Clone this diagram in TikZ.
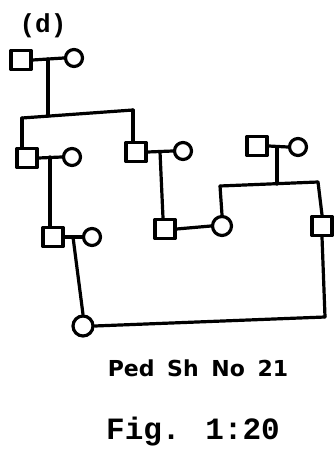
\documentclass[tikz,border=0pt]{standalone}
\usepackage{fontspec}
\setmainfont{DejaVu Sans}
\newfontfamily\monofnt{Liberation Mono}
\begin{document}
\begin{tikzpicture}[x=1pt,y=-1pt,
  line width=3.2pt, line cap=round, line join=round,
  male/.style={draw, rectangle, minimum width=20pt, minimum height=19pt, inner sep=0pt, line width=3.2pt},
  female/.style={draw, circle, minimum size=17pt, inner sep=0pt, line width=3.2pt},
  lbl/.style={inner sep=0pt, anchor=center}]
\useasboundingbox (0,0) rectangle (335,454);
% generation I
\node[male]   (I1) at (21,60) {};
\node[female] (I2) at (74,58) {};
% generation II
\node[male]   (II1) at (27,158) {};
\node[female] (II2) at (72,157) {};
\node[male]   (II3) at (136,152) {};
\node[female] (II4) at (183,151) {};
\node[male]   (II5) at (257,146) {};
\node[female] (II6) at (298,147) {};
% generation III
\node[male]   (III1) at (53,237) {};
\node[female] (III2) at (92,237) {};
\node[male]   (III3) at (165,229) {};
\node[female, minimum size=19pt] (III4) at (222,226) {};
\node[male]   (III5) at (322,226) {};
% generation IV
\node[female, minimum size=20pt] (IV1) at (83,326) {};
% coordinates
\coordinate (m1) at (48,59);
\coordinate (s1) at (48,116);
\coordinate (s1l) at (22,118);
\coordinate (s1r) at (133,110);
\coordinate (m2) at (50,157);
\coordinate (m3) at (160,152);
\coordinate (m4) at (277,147);
\coordinate (s4) at (277,184);
\coordinate (s4l) at (220,186);
\coordinate (s4r) at (318,182);
\coordinate (m5) at (73,237);
\coordinate (c5) at (325,317);
% connectors
\draw (I1.east) -- (I2.west);
\draw (m1) -- (s1);
\draw (s1l) -- (s1r);
\draw (s1l) -- (II1.north -| s1l);
\draw (s1r) -- (II3.north -| s1r);
\draw (II1.east) -- (II2.west);
\draw (m2) -- (III1.north -| m2);
\draw (II3.east) -- (II4.west);
\draw (m3) -- (III3.north -| 163,0);
\draw (II5.east) -- (II6.west);
\draw (m4) -- (s4);
\draw (s4l) -- (s4r);
\draw (s4l) -- (III4.north);
\draw (s4r) -- (III5.north);
\draw (III1.east) -- (III2.west);
\draw (m5) -- (IV1.north);
\draw (III3.east) -- (III4.west);
\draw (III5.south) -- (c5);
\draw (c5) -- (IV1.east);
% labels
\node[lbl] (d) at (43,26) {\monofnt\bfseries\fontsize{26}{26}\selectfont (d)};
\node[lbl] (ped) at (198,368) {\bfseries\fontsize{22}{22}\selectfont Ped\hspace{5pt} Sh\hspace{5pt} No\hspace{5pt} 21};
\node[lbl] (fig) at (193,432) {\monofnt\bfseries\fontsize{31}{31}\selectfont Fig. 1:20};
\end{tikzpicture}
\end{document}
